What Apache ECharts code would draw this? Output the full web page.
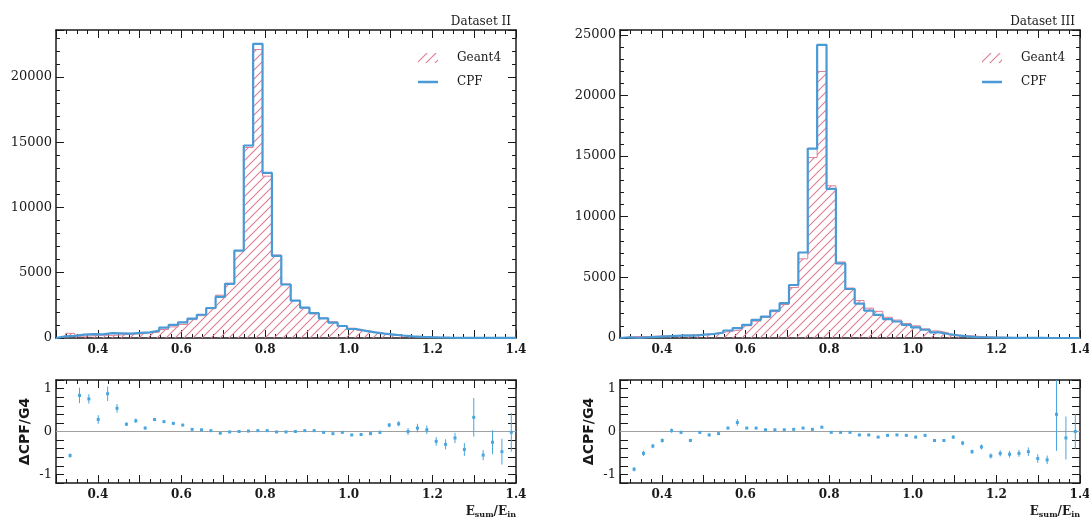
<!DOCTYPE html>
<html>
<head>
<meta charset="utf-8">
<script src="https://cdn.jsdelivr.net/npm/echarts/dist/echarts.min.js"></script>
<style>
html,body{margin:0;padding:0;background:#fff;}
#chart{width:1089px;height:521px;}
</style>
</head>
<body>
<div id="chart"></div>
<script>
// ---------------- data ----------------
const binLow = 0.3, binHigh = 1.4, nBins = 49;
const xTickLabels = ['0.4', '0.6', '0.8', '1.0', '1.2', '1.4'];
const yTickLabelsII = ['0', '5000', '10000', '15000', '20000'];
const yTickLabelsIII = ['0', '5000', '10000', '15000', '20000', '25000'];
const ratioTickLabels = ['-1', '0', '1'];
const yMaxII = 23600, yMaxIII = 25400;

// Dataset II
const g4II = [100,360,140,170,220,200,235,290,320,400,440,650,850,1040,1410,1710,2250,3280,4190,6700,14600,22100,12400,6360,4140,2870,2290,1860,1530,1240,940,750,590,450,340,225,160,130,83,60,49,34,19,15,6,9,4,4,2];
const cpfII = [120,160,260,300,280,380,360,340,400,430,560,800,1010,1200,1480,1780,2300,3150,4150,6700,14750,22540,12650,6300,4100,2870,2330,1900,1500,1180,920,690,550,430,330,260,190,130,90,62,38,24,16,9,8,4,3,2,2];
const ratioII = [null,-0.56,0.84,0.76,0.28,0.88,0.54,0.17,0.25,0.08,0.28,0.23,0.19,0.15,0.05,0.04,0.02,-0.04,-0.01,0.00,0.01,0.02,0.02,-0.01,-0.01,0.00,0.02,0.02,-0.02,-0.05,-0.02,-0.08,-0.07,-0.05,-0.02,0.15,0.18,0.00,0.08,0.04,-0.23,-0.30,-0.15,-0.42,0.33,-0.55,-0.25,-0.47,-0.02];
const errII = [null,0.05,0.18,0.11,0.10,0.17,0.10,0.04,0.05,0.03,0.03,0.03,0.03,0.02,0.02,0.02,0.02,0.02,0.01,0.01,0.01,0.01,0.01,0.01,0.01,0.01,0.01,0.02,0.02,0.02,0.02,0.02,0.03,0.03,0.04,0.05,0.06,0.08,0.10,0.10,0.10,0.12,0.12,0.15,0.45,0.12,0.28,0.30,0.45];

// Dataset III
const g4III = [70,125,122,152,177,176,214,253,286,359,463,574,678,1009,1389,1702,2173,2760,4160,6530,14880,21980,12550,6270,4120,3090,2460,2200,1710,1480,1200,1000,750,580,420,240,190,150,94,81,51,32,20,11,11,6,1,1,1];
const cpfIII = [60,15,60,100,140,180,210,200,280,330,440,620,820,1090,1500,1770,2260,2870,4370,7050,15620,24180,12300,6150,4040,2840,2260,1910,1560,1360,1090,870,680,460,330,210,140,80,60,35,25,15,10,6,4,2,2,1,1];
const ratioIII = [null,-0.88,-0.51,-0.34,-0.21,0.02,-0.02,-0.21,-0.02,-0.08,-0.05,0.08,0.21,0.08,0.08,0.04,0.04,0.04,0.05,0.08,0.05,0.10,-0.02,-0.02,-0.02,-0.08,-0.08,-0.13,-0.09,-0.08,-0.09,-0.13,-0.09,-0.21,-0.21,-0.13,-0.27,-0.47,-0.36,-0.57,-0.51,-0.53,-0.51,-0.47,-0.63,-0.66,0.40,-0.15,0.00];
const errIII = [null,0.05,0.06,0.05,0.05,0.05,0.04,0.04,0.03,0.03,0.03,0.03,0.08,0.02,0.02,0.02,0.02,0.01,0.01,0.01,0.01,0.01,0.01,0.01,0.01,0.02,0.02,0.02,0.02,0.02,0.02,0.03,0.03,0.03,0.03,0.04,0.05,0.05,0.06,0.06,0.07,0.08,0.08,0.10,0.10,0.10,0.85,0.50,0.40];

// ---------------- styling ----------------
const SERIF = 'DejaVu Serif';
const AX = '#1a1a1a';
const CPF_BLUE = '#4a9ad6';
const HATCH = '#e07d92';
const PT_BLUE = '#4aa6df';

function makeHatch() {
  const s = 9;
  const c = document.createElement('canvas');
  c.width = s; c.height = s;
  const ctx = c.getContext('2d');
  ctx.strokeStyle = HATCH;
  ctx.lineWidth = 1.1;
  ctx.beginPath();
  ctx.moveTo(-1, s + 1); ctx.lineTo(s + 1, -1);
  ctx.moveTo(-1, 1); ctx.lineTo(1, -1);
  ctx.moveTo(s - 1, s + 1); ctx.lineTo(s + 1, s - 1);
  ctx.stroke();
  return { image: c, repeat: 'repeat' };
}
const hatch = makeHatch();

const binW = (binHigh - binLow) / nBins;
function edge(k) { return binLow + k * binW; }
function center(k) { return binLow + (k + 0.5) * binW; }
function steps(vals) {
  const pts = [[binLow, 0]];
  vals.forEach((v, k) => { pts.push([edge(k), v]); pts.push([edge(k + 1), v]); });
  pts.push([binHigh, 0]);
  return pts;
}
function ratioPts(r, e) {
  const d = [];
  r.forEach((v, k) => { if (v !== null) d.push([center(k), v, e[k]]); });
  return d;
}

const xFmt = v => { const s = (Math.round(v * 10) / 10).toFixed(1); return xTickLabels.includes(s) ? s : ''; };
const mkYFmt = labels => v => { const s = String(Math.round(v)); return (Math.abs(v - Math.round(v)) < 1e-6 && labels.includes(s)) ? s : ''; };

function xAxis(grid, pos, showLabel, name) {
  const a = {
    type: 'value', gridIndex: grid, position: pos, min: binLow, max: binHigh, interval: 0.1,
    axisLine: { show: true, onZero: false, lineStyle: { color: AX, width: 1.5 } },
    axisTick: { show: true, inside: true, length: 8, lineStyle: { color: AX, width: 1 } },
    minorTick: { show: true, splitNumber: 4, length: 4, lineStyle: { color: AX, width: 1 } },
    axisLabel: { show: showLabel, margin: 6, fontFamily: SERIF, fontSize: 12, fontWeight: 'bold', color: AX, formatter: xFmt },
    splitLine: { show: false }, minorSplitLine: { show: false }
  };
  if (name) {
    a.name = name;
    a.nameLocation = 'end';
    a.nameGap = 0;
    a.nameTextStyle = {
      align: 'right', verticalAlign: 'top', padding: [22, 0, 0, 0],
      fontFamily: SERIF, fontSize: 12, fontWeight: 'bold', color: AX,
      rich: { s: { fontFamily: SERIF, fontSize: 8, fontWeight: 'bold', color: AX, verticalAlign: 'bottom', padding: [6, 0, 0, 0] } }
    };
  }
  return a;
}
function yAxis(grid, pos, showLabel, min, max, interval, labels, minorSplit, name) {
  const a = {
    type: 'value', gridIndex: grid, position: pos, min: min, max: max, interval: interval,
    axisLine: { show: true, onZero: false, lineStyle: { color: AX, width: 1.5 } },
    axisTick: { show: true, inside: true, length: 8, lineStyle: { color: AX, width: 1 } },
    minorTick: { show: minorSplit > 0, splitNumber: minorSplit || 1, length: 4, lineStyle: { color: AX, width: 1 } },
    axisLabel: { show: showLabel, margin: 4, fontFamily: SERIF, fontSize: 13, color: AX, formatter: mkYFmt(labels) },
    splitLine: { show: false }, minorSplitLine: { show: false }
  };
  if (name) {
    a.name = name;
    a.nameLocation = 'middle';
    a.nameGap = 24;
    a.nameRotate = 90;
    a.nameTextStyle = { fontFamily: 'DejaVu Sans', fontWeight: 'bold', fontSize: 14, color: AX };
  }
  return a;
}

function histSeries(xi, yi, g4, cpf) {
  return [
    { type: 'line', name: 'Geant4', xAxisIndex: xi, yAxisIndex: yi, data: steps(g4),
      symbol: 'none', lineStyle: { color: HATCH, width: 1 }, itemStyle: { color: HATCH },
      areaStyle: { color: hatch, opacity: 1 }, z: 1, silent: true },
    { type: 'line', name: 'CPF', xAxisIndex: xi, yAxisIndex: yi, data: steps(cpf),
      symbol: 'none', lineStyle: { color: CPF_BLUE, width: 2.2 }, itemStyle: { color: CPF_BLUE }, z: 2, silent: true }
  ];
}
function ratioSeries(xi, yi, r, e) {
  return [
    { type: 'line', name: 'zero', xAxisIndex: xi, yAxisIndex: yi, data: [[binLow, 0], [binHigh, 0]],
      symbol: 'none', lineStyle: { color: '#a0a0a0', width: 1 }, z: 1, silent: true },
    { type: 'custom', name: 'ratio', xAxisIndex: xi, yAxisIndex: yi, data: ratioPts(r, e), clip: true, z: 3, silent: true,
      renderItem: function (params, api) {
        const x = api.value(0), y = api.value(1), er = api.value(2);
        const p = api.coord([x, y]);
        const lo = api.coord([x, y - er]);
        const hi = api.coord([x, y + er]);
        return { type: 'group', children: [
          { type: 'line', shape: { x1: p[0], y1: lo[1], x2: p[0], y2: hi[1] }, style: { stroke: PT_BLUE, lineWidth: 1 } },
          { type: 'rect', shape: { x: p[0] - 1.5, y: p[1] - 1.5, width: 3, height: 3 }, style: { fill: PT_BLUE } }
        ] };
      } }
  ];
}

const legendStyle = {
  orient: 'vertical', itemWidth: 20, itemHeight: 10, itemGap: 12, selectedMode: false,
  textStyle: { fontFamily: SERIF, fontSize: 12, color: AX, padding: [0, 0, 0, 14] },
  data: [
    { name: 'Geant4', icon: 'rect', itemStyle: { color: hatch, borderWidth: 0 } },
    { name: 'CPF', icon: 'path://M0,0H40V5H0Z', itemStyle: { color: CPF_BLUE, borderWidth: 0 } }
  ]
};

const xName = 'E{s|sum}/E{s|in}';
const option = {
  animation: false,
  backgroundColor: '#ffffff',
  title: [
    { text: 'Dataset II', right: 573, top: 11, textStyle: { fontFamily: SERIF, fontSize: 12, fontWeight: 'normal', color: AX } },
    { text: 'Dataset III', right: 9, top: 11, textStyle: { fontFamily: SERIF, fontSize: 12, fontWeight: 'normal', color: AX } }
  ],
  legend: [
    Object.assign({ left: 413, top: 47 }, legendStyle),
    Object.assign({ left: 977, top: 47 }, legendStyle)
  ],
  grid: [
    { left: 56, right: 573, top: 30, height: 308, outerBoundsMode: 'none' },
    { left: 56, right: 573, top: 380, height: 103, outerBoundsMode: 'none' },
    { left: 620, right: 9, top: 30, height: 308, outerBoundsMode: 'none' },
    { left: 620, right: 9, top: 380, height: 103, outerBoundsMode: 'none' }
  ],
  xAxis: [
    xAxis(0, 'bottom', true), xAxis(0, 'top', false),
    xAxis(1, 'bottom', true, xName), xAxis(1, 'top', false),
    xAxis(2, 'bottom', true), xAxis(2, 'top', false),
    xAxis(3, 'bottom', true, xName), xAxis(3, 'top', false)
  ],
  yAxis: [
    yAxis(0, 'left', true, 0, yMaxII, 5000, yTickLabelsII, 5), yAxis(0, 'right', false, 0, yMaxII, 5000, yTickLabelsII, 5),
    yAxis(1, 'left', true, -1.2, 1.2, 0.2, ratioTickLabels, 0, 'ΔCPF/G4'), yAxis(1, 'right', false, -1.2, 1.2, 0.2, ratioTickLabels, 0),
    yAxis(2, 'left', true, 0, yMaxIII, 5000, yTickLabelsIII, 5), yAxis(2, 'right', false, 0, yMaxIII, 5000, yTickLabelsIII, 5),
    yAxis(3, 'left', true, -1.2, 1.2, 0.2, ratioTickLabels, 0, 'ΔCPF/G4'), yAxis(3, 'right', false, -1.2, 1.2, 0.2, ratioTickLabels, 0)
  ],
  series: [].concat(
    histSeries(0, 0, g4II, cpfII),
    ratioSeries(2, 2, ratioII, errII),
    histSeries(4, 4, g4III, cpfIII),
    ratioSeries(6, 6, ratioIII, errIII)
  )
};

const chart = echarts.init(document.getElementById('chart'), null, { renderer: 'canvas' });
chart.setOption(option);
</script>
</body>
</html>
